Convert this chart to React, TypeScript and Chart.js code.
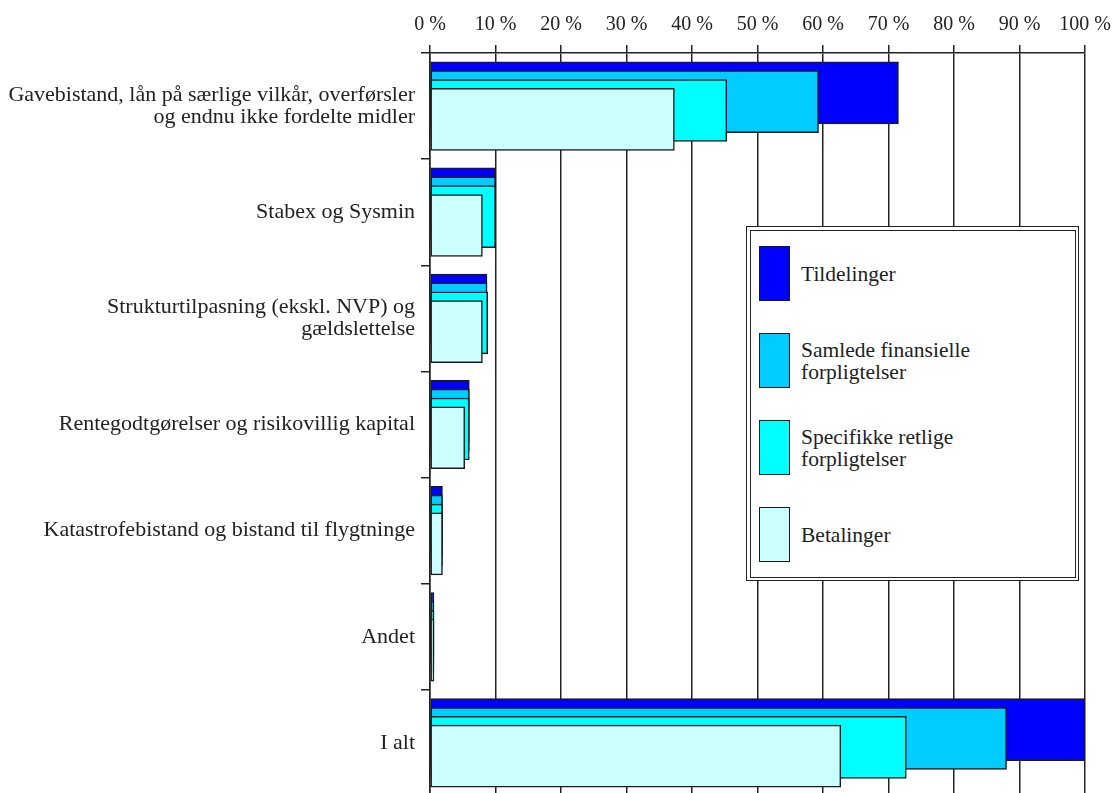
import React, { useEffect, useRef } from "react";
import { Chart, registerables } from "chart.js";

Chart.register(...registerables);

const categories: (string | string[])[] = [
  ["Gavebistand, lån på særlige vilkår, overførsler", "og endnu ikke fordelte midler"],
  "Stabex og Sysmin",
  ["Strukturtilpasning (ekskl. NVP) og", "gældslettelse"],
  "Rentegodtgørelser og risikovillig kapital",
  "Katastrofebistand og bistand til flygtninge",
  "Andet",
  "I alt",
];

const seriesNames = [
  "Tildelinger",
  ["Samlede finansielle", "forpligtelser"],
  ["Specifikke retlige", "forpligtelser"],
  "Betalinger",
];

const tildelinger = [71.5, 10.0, 8.7, 6.0, 1.9, 0.6, 100];
const samlede = [59.3, 10.0, 8.7, 6.0, 1.9, 0.6, 88.0];
const specifikke = [45.3, 10.0, 8.8, 6.0, 1.9, 0.6, 72.7];
const betalinger = [37.3, 8.0, 8.0, 5.3, 1.9, 0.6, 62.7];

const xTicks = [0, 10, 20, 30, 40, 50, 60, 70, 80, 90, 100];

const colors = ["#0000ff", "#00ccff", "#00ffff", "#ccffff"];
const offsets = [-0.125, -0.042, 0.042, 0.125];

const FONT = "'Liberation Serif', 'DejaVu Serif', serif";

export default function App() {
  const ref = useRef<HTMLCanvasElement | null>(null);

  useEffect(() => {
    const ctx = ref.current!;
    const all = [tildelinger, samlede, specifikke, betalinger];
    const chart = new Chart(ctx, {
      type: "bar",
      data: {
        labels: categories as any,
        datasets: all.map((vals, k) => ({
          label: Array.isArray(seriesNames[k]) ? (seriesNames[k] as string[]).join(" ") : (seriesNames[k] as string),
          data: vals.map((v, i) => ({ x: v, y: i + offsets[k] })),
          backgroundColor: colors[k],
          borderColor: "#1a1a1a",
          borderWidth: 1.5,
          borderSkipped: false,
          barThickness: 62,
          grouped: false,
          order: 4 - k,
          xAxisID: "x",
          yAxisID: "yv",
        })) as any,
      },
      options: {
        indexAxis: "y",
        animation: false,
        responsive: false,
        maintainAspectRatio: false,
        layout: { padding: { left: 0, right: 33, top: 0, bottom: 4 } },
        plugins: { legend: { display: false }, tooltip: { enabled: false } },
        scales: {
          x: {
            type: "linear",
            position: "top",
            min: 0,
            max: 100,
            afterBuildTicks: (scale: any) => {
              scale.ticks = xTicks.map((v) => ({ value: v }));
            },
            afterFit: (scale: any) => {
              scale.height = 53;
            },
            ticks: {
              callback: (v: any) => v + " %",
              color: "#222",
              font: { family: FONT, size: 20 },
              padding: 8,
              maxRotation: 0,
            },
            grid: { color: "#222", lineWidth: 1.5, tickLength: 8 },
            border: { display: true, color: "#222", width: 1.5 },
          },
          y: {
            type: "category",
            position: "left",
            offset: true,
            afterFit: (scale: any) => {
              scale.width = 430;
              scale.paddingTop = 0;
              scale.paddingBottom = 0;
            },
            ticks: {
              color: "#222",
              font: { family: FONT, size: 22, lineHeight: 1.0 },
              padding: 6,
              autoSkip: false,
            },
            grid: { offset: true, drawOnChartArea: false, color: "#222", lineWidth: 1.5, tickLength: 9 },
            border: { display: true, color: "#222", width: 1.5 },
          },
          yv: {
            type: "linear",
            position: "left",
            display: false,
            offset: false,
            grace: 0,
            min: -0.5,
            max: 6.5,
            reverse: true,
            afterFit: (scale: any) => {
              scale.paddingTop = 0;
              scale.paddingBottom = 0;
            },
          },
        },
      } as any,
    });
    return () => chart.destroy();
  }, []);

  const swatchTops = [20, 107, 194, 281];

  return (
    <div style={{ position: "fixed", left: 0, top: 0, width: 1119, height: 793, overflow: "hidden", background: "#fff" }}>
      <canvas ref={ref} width={1119} height={800} style={{ display: "block", width: 1119, height: 800 }} />
      <div
        style={{
          position: "absolute",
          left: 746,
          top: 226,
          width: 333,
          height: 355,
          boxSizing: "border-box",
          border: "1.5px solid #222",
          padding: 2.5,
          background: "#fff",
        }}
      >
        <div style={{ width: "100%", height: "100%", boxSizing: "border-box", border: "1px solid #222", position: "relative" }} />
      </div>
      {seriesNames.map((name, k) => (
        <React.Fragment key={k}>
          <div
            style={{
              position: "absolute",
              left: 759,
              top: 226 + swatchTops[k],
              width: 31,
              height: 55,
              boxSizing: "border-box",
              border: "1.5px solid #1a1a1a",
              background: colors[k],
            }}
          />
          <div
            style={{
              position: "absolute",
              left: 801,
              top: 226 + swatchTops[k],
              height: 55,
              display: "flex",
              alignItems: "center",
              fontFamily: FONT,
              fontSize: 21.5,
              lineHeight: "22px",
              color: "#222",
              whiteSpace: "nowrap",
            }}
          >
            <div>
              {(Array.isArray(name) ? name : [name]).map((l, j) => (
                <div key={j}>{l}</div>
              ))}
            </div>
          </div>
        </React.Fragment>
      ))}
    </div>
  );
}
